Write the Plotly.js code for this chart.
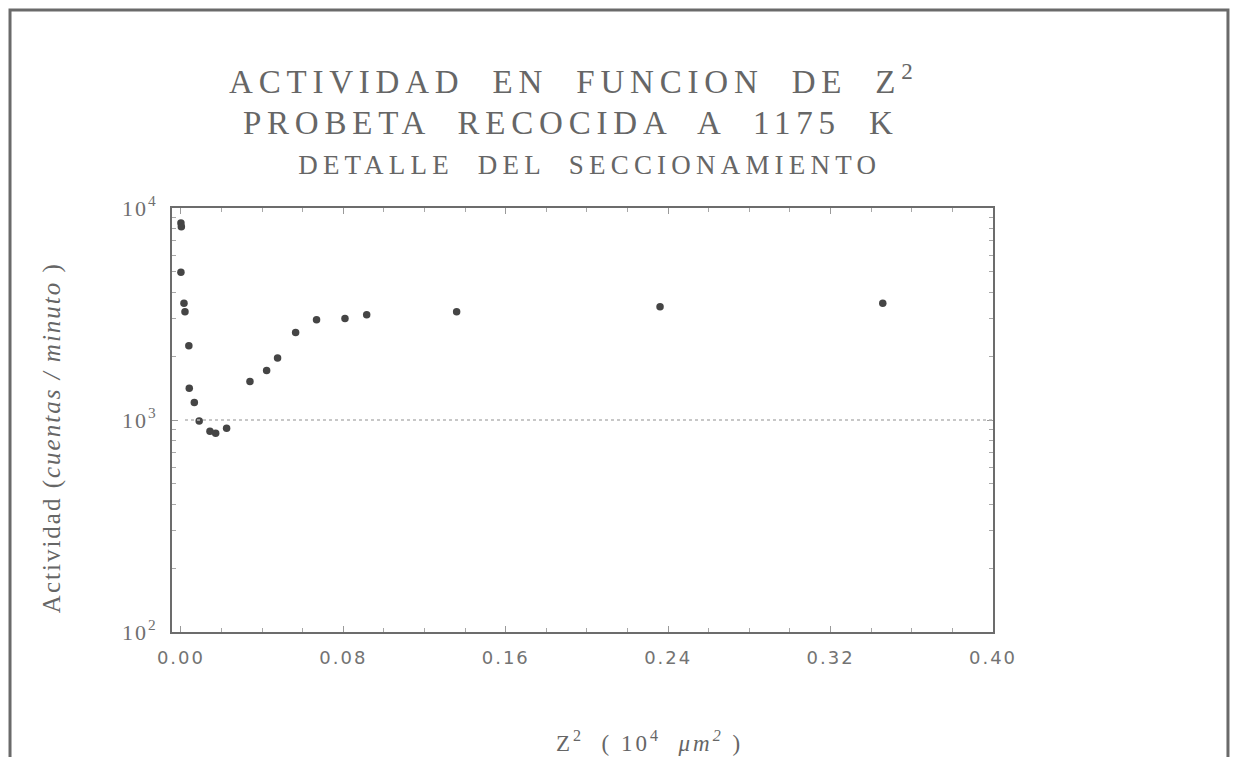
<!DOCTYPE html>
<html>
<head>
<meta charset="utf-8">
<script src="https://cdn.plot.ly/plotly-3.0.1.min.js"></script>
<style>
  html, body { margin: 0; padding: 0; background: #ffffff; }
  #chart { width: 1234px; height: 757px; }
  /* wide typewriter-like spacing for the heading lines and axis titles */
  .annotation[data-index="0"] .annotation-text { letter-spacing: 5.8px; }
  .annotation[data-index="1"] .annotation-text { letter-spacing: 5.8px; }
  .annotation[data-index="2"] .annotation-text { letter-spacing: 5.2px; }
  .annotation[data-index="3"] .annotation-text { letter-spacing: 2px; }
  .annotation[data-index="4"] .annotation-text { letter-spacing: 3px; }
  .xtick text, .ytick text { letter-spacing: 2px; }
</style>
</head>
<body>
<div id="chart"></div>
<script>
// Z^2 position (10^4 um^2) of each section
const z2 = [0.0000, 0.0002, 0.0000, 0.0015, 0.0020, 0.0039, 0.0041, 0.0066, 0.0090,
            0.0143, 0.0171, 0.0225, 0.0340, 0.0422, 0.0476, 0.0565, 0.0668, 0.0808,
            0.0915, 0.1358, 0.2360, 0.3457];
// measured activity (counts / minute)
const actividad = [8500, 8150, 4970, 3550, 3240, 2240, 1410, 1210, 990,
                   885, 867, 915, 1520, 1710, 1960, 2590, 2970, 3010,
                   3135, 3240, 3420, 3550];

const xTickVals = [0, 0.08, 0.16, 0.24, 0.32, 0.40];
const xTickText = ['0.00', '0.08', '0.16', '0.24', '0.32', '0.40'];
const yTickVals = [100, 1000, 10000];
const yTickText = ['10<sup>2</sup>', '10<sup>3</sup>', '10<sup>4</sup>'];
const yMinorVals = [];
[100, 1000].forEach(d => { for (let k = 2; k <= 9; k++) yMinorVals.push(k * d); });

const grey = '#6c6c6c';
const serif = 'Liberation Serif, Times New Roman, serif';

const trace = {
  x: z2,
  y: actividad,
  type: 'scatter',
  mode: 'markers',
  marker: { size: 7.5, color: '#454545' },
  hoverinfo: 'x+y'
};

const layout = {
  width: 1234,
  height: 757,
  margin: { l: 172, r: 241, t: 208, b: 125 },
  paper_bgcolor: '#ffffff',
  plot_bgcolor: '#ffffff',
  showlegend: false,
  xaxis: {
    range: [-0.0044, 0.40],
    tickmode: 'array',
    tickvals: xTickVals,
    ticktext: xTickText,
    ticks: 'inside',
    ticklen: 6,
    tickcolor: '#9a9a9a',
    minor: { dtick: 0.02, tick0: 0, ticks: 'inside', ticklen: 4, tickcolor: '#a8a8a8', showgrid: false },
    showline: true,
    linecolor: grey,
    linewidth: 2,
    mirror: 'ticks',
    showgrid: false,
    zeroline: false,
    ticklabelstandoff: 8,
    tickfont: { family: 'DejaVu Sans, sans-serif', size: 18, color: '#737373' }
  },
  yaxis: {
    type: 'log',
    range: [2, 4],
    tickmode: 'array',
    tickvals: yTickVals,
    ticktext: yTickText,
    ticks: 'inside',
    ticklen: 6,
    tickcolor: '#9a9a9a',
    minor: { tickmode: 'array', tickvals: yMinorVals, ticks: 'inside', ticklen: 4, tickcolor: '#a8a8a8', showgrid: false },
    showline: true,
    linecolor: grey,
    linewidth: 2,
    mirror: 'ticks',
    showgrid: false,
    zeroline: false,
    ticklabelstandoff: 8,
    tickfont: { family: serif, size: 22, color: '#6f6f6f' }
  },
  annotations: [
    { text: 'ACTIVIDAD  EN  FUNCION  DE  Z<sup>2</sup>', xref: 'paper', yref: 'paper',
      x: 0.4896, y: 1.304, xanchor: 'center', yanchor: 'middle', showarrow: false,
      font: { family: serif, size: 33, color: '#666666' } },
    { text: 'PROBETA  RECOCIDA  A  1175  K', xref: 'paper', yref: 'paper',
      x: 0.486, y: 1.2005, xanchor: 'center', yanchor: 'middle', showarrow: false,
      font: { family: serif, size: 33, color: '#666666' } },
    { text: 'DETALLE  DEL  SECCIONAMIENTO', xref: 'paper', yref: 'paper',
      x: 0.508, y: 1.1014, xanchor: 'center', yanchor: 'middle', showarrow: false,
      font: { family: serif, size: 27, color: '#666666' } },
    { text: 'Actividad (<i>cuentas / minuto</i> )', xref: 'paper', yref: 'paper',
      x: -0.146, y: 0.4575, xanchor: 'center', yanchor: 'middle', textangle: -90, showarrow: false,
      font: { family: serif, size: 25, color: '#666666' } },
    { text: 'Z<sup>2</sup>  ( 10<sup>4</sup>  <i>μm<sup>2</sup></i> )', xref: 'paper', yref: 'paper',
      x: 0.582, y: -0.258, xanchor: 'center', yanchor: 'middle', showarrow: false,
      font: { family: serif, size: 23, color: '#666666' } }
  ],
  shapes: [
    // dotted reference level at 10^3
    { type: 'line', xref: 'x', yref: 'y', x0: 0.002, x1: 0.40, y0: 1000, y1: 1000,
      line: { color: '#b5b5b5', width: 1.5, dash: 'dot' } },
    // frame around the sheet
    { type: 'path', xref: 'paper', yref: 'paper',
      path: 'M -0.1973,-0.35 L -0.1973,1.467 L 1.2862,1.467 L 1.2862,-0.35',
      line: { color: '#6a6a6a', width: 3 } }
  ]
};

Plotly.newPlot('chart', [trace], layout, { displayModeBar: false, staticPlot: true });
</script>
</body>
</html>
